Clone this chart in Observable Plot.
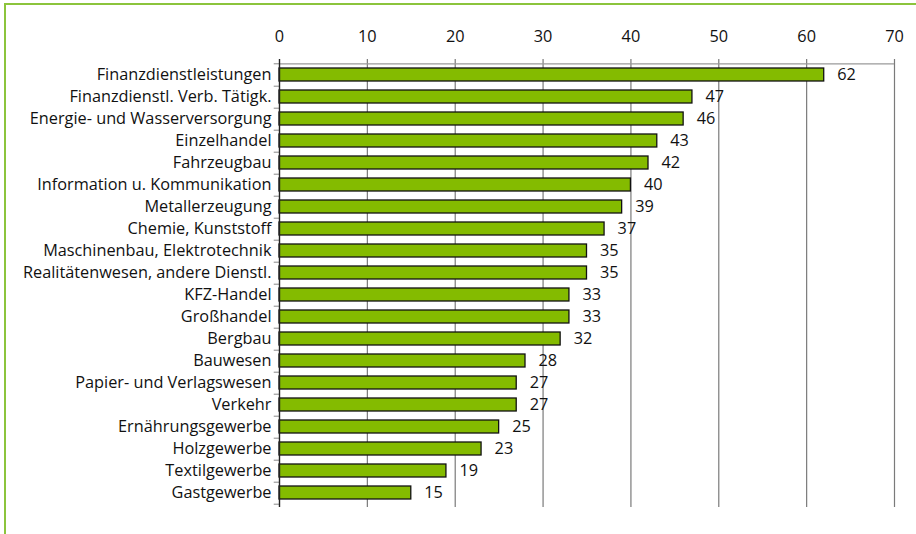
<!DOCTYPE html>
<html>
<head>
<meta charset="utf-8">
<script src="https://cdn.jsdelivr.net/npm/d3@7"></script>
<script src="https://cdn.jsdelivr.net/npm/@observablehq/plot@0.6"></script>
<style>
  html, body { margin: 0; padding: 0; background: #fff; }
  #wrap { position: relative; width: 916px; height: 534px; overflow: hidden; }
  #bt { position: absolute; left: 4px; top: 3px; width: 912px; height: 2px; background: #8cc43c; }
  #bl { position: absolute; left: 4px; top: 3px; width: 2px; height: 531px; background: #8cc43c; }
  #chart { position: absolute; left: 0; top: 0; }
</style>
</head>
<body>
<div id="wrap">
  <div id="chart"></div>
  <div id="bt"></div>
  <div id="bl"></div>
</div>
<script>
const categories = [
  "Finanzdienstleistungen",
  "Finanzdienstl. Verb. Tätigk.",
  "Energie- und Wasserversorgung",
  "Einzelhandel",
  "Fahrzeugbau",
  "Information u. Kommunikation",
  "Metallerzeugung",
  "Chemie, Kunststoff",
  "Maschinenbau, Elektrotechnik",
  "Realitätenwesen, andere Dienstl.",
  "KFZ-Handel",
  "Großhandel",
  "Bergbau",
  "Bauwesen",
  "Papier- und Verlagswesen",
  "Verkehr",
  "Ernährungsgewerbe",
  "Holzgewerbe",
  "Textilgewerbe",
  "Gastgewerbe"
];
const values = [62, 47, 46, 43, 42, 40, 39, 37, 35, 35, 33, 33, 32, 28, 27, 27, 25, 23, 19, 15];
const xTicks = [0, 10, 20, 30, 40, 50, 60, 70];
const gridTicks = [10, 20, 30, 40, 50, 60, 70];

const data = categories.map((c, i) => ({category: c, value: values[i]}));

const H = 534, MT = 59, MB = 27;
const step = (H - MT - MB) / categories.length;

const chart = Plot.plot({
  width: 916,
  height: H,
  marginLeft: 279,
  marginRight: 22,
  marginTop: MT,
  marginBottom: MB,
  style: {fontFamily: "'Open Sans', sans-serif", fontSize: "16px", color: "#111", background: "transparent"},
  x: {domain: [0, 70], axis: null, label: null},
  y: {domain: categories, paddingInner: 0.42, paddingOuter: 0.21, axis: null},
  marks: [
    Plot.ruleX(gridTicks, {stroke: "#7a7a7a", strokeWidth: 1.2}),
    Plot.ruleY([categories[0]], {x1: 0, x2: 70, dy: -step / 2, stroke: "#9a9a9a", strokeWidth: 1.2}),
    Plot.ruleY(categories, {x1: -0.6, x2: 0, dy: step / 2, stroke: "#888", strokeWidth: 1}),
    Plot.ruleY([categories[0]], {x1: -0.6, x2: 0, dy: -step / 2, stroke: "#888", strokeWidth: 1}),
    Plot.barX(data, {x: "value", y: "category", fill: "#84bb00", stroke: "#111", strokeWidth: 1.3}),
    Plot.ruleX([0], {stroke: "#222", strokeWidth: 1.4}),
    Plot.axisX(xTicks, {anchor: "top", label: null, tickSize: 0, tickPadding: 18, fontSize: 16.3}),
    Plot.text(data, {x: "value", y: "category", text: d => String(d.value), textAnchor: "start", dx: 13, fontSize: 16.3, fill: "#111"}),
    Plot.text(data, {x: 0, y: "category", text: "category", textAnchor: "end", dx: -8, fontSize: 16.3, fill: "#111"})
  ]
});
document.getElementById("chart").appendChild(chart);
</script>
</body>
</html>
